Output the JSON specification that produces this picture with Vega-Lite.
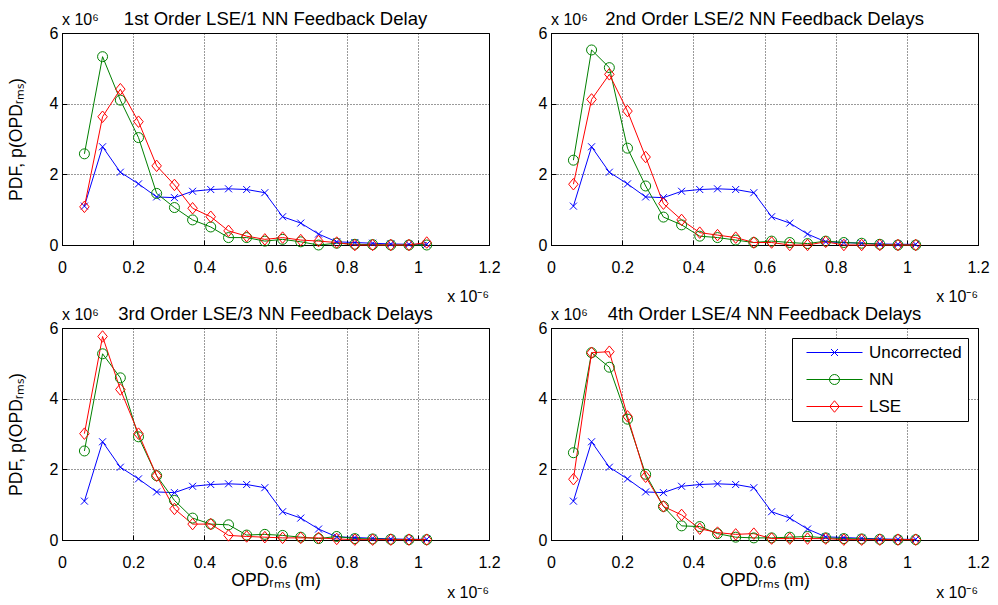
{
  "$schema": "https://vega.github.io/schema/vega-lite/v6.json",
  "background": "white",
  "padding": {"left": 6, "top": 9, "right": 5, "bottom": 0},
  "datasets": {
    "pdf": [
      {"panel":1,"opd":0.063,"Uncorrected":1.10,"NN":2.58,"LSE":1.08},
      {"panel":1,"opd":0.114,"Uncorrected":2.78,"NN":5.33,"LSE":3.63},
      {"panel":1,"opd":0.164,"Uncorrected":2.06,"NN":4.10,"LSE":4.41},
      {"panel":1,"opd":0.215,"Uncorrected":1.73,"NN":3.04,"LSE":3.49},
      {"panel":1,"opd":0.266,"Uncorrected":1.36,"NN":1.46,"LSE":2.24},
      {"panel":1,"opd":0.316,"Uncorrected":1.34,"NN":1.06,"LSE":1.70},
      {"panel":1,"opd":0.367,"Uncorrected":1.52,"NN":0.71,"LSE":1.04},
      {"panel":1,"opd":0.418,"Uncorrected":1.57,"NN":0.51,"LSE":0.80},
      {"panel":1,"opd":0.468,"Uncorrected":1.59,"NN":0.21,"LSE":0.40},
      {"panel":1,"opd":0.519,"Uncorrected":1.57,"NN":0.21,"LSE":0.25},
      {"panel":1,"opd":0.570,"Uncorrected":1.48,"NN":0.11,"LSE":0.16},
      {"panel":1,"opd":0.620,"Uncorrected":0.80,"NN":0.16,"LSE":0.21},
      {"panel":1,"opd":0.671,"Uncorrected":0.62,"NN":0.09,"LSE":0.14},
      {"panel":1,"opd":0.721,"Uncorrected":0.31,"NN":0.00,"LSE":0.11},
      {"panel":1,"opd":0.772,"Uncorrected":0.09,"NN":0.05,"LSE":0.07},
      {"panel":1,"opd":0.823,"Uncorrected":0.07,"NN":0.02,"LSE":0.00},
      {"panel":1,"opd":0.873,"Uncorrected":0.05,"NN":0.01,"LSE":0.00},
      {"panel":1,"opd":0.924,"Uncorrected":0.03,"NN":0.00,"LSE":0.00},
      {"panel":1,"opd":0.975,"Uncorrected":0.02,"NN":0.00,"LSE":0.00},
      {"panel":1,"opd":1.025,"Uncorrected":0.02,"NN":0.00,"LSE":0.07},
      {"panel":2,"opd":0.063,"Uncorrected":1.10,"NN":2.40,"LSE":1.72},
      {"panel":2,"opd":0.114,"Uncorrected":2.78,"NN":5.52,"LSE":4.12},
      {"panel":2,"opd":0.164,"Uncorrected":2.06,"NN":5.02,"LSE":4.83},
      {"panel":2,"opd":0.215,"Uncorrected":1.73,"NN":2.74,"LSE":3.79},
      {"panel":2,"opd":0.266,"Uncorrected":1.36,"NN":1.67,"LSE":2.49},
      {"panel":2,"opd":0.316,"Uncorrected":1.34,"NN":0.79,"LSE":1.17},
      {"panel":2,"opd":0.367,"Uncorrected":1.52,"NN":0.57,"LSE":0.71},
      {"panel":2,"opd":0.418,"Uncorrected":1.57,"NN":0.25,"LSE":0.35},
      {"panel":2,"opd":0.468,"Uncorrected":1.59,"NN":0.21,"LSE":0.28},
      {"panel":2,"opd":0.519,"Uncorrected":1.57,"NN":0.14,"LSE":0.21},
      {"panel":2,"opd":0.570,"Uncorrected":1.48,"NN":0.07,"LSE":0.07},
      {"panel":2,"opd":0.620,"Uncorrected":0.80,"NN":0.11,"LSE":0.07},
      {"panel":2,"opd":0.671,"Uncorrected":0.62,"NN":0.07,"LSE":0.00},
      {"panel":2,"opd":0.721,"Uncorrected":0.31,"NN":0.04,"LSE":0.00},
      {"panel":2,"opd":0.772,"Uncorrected":0.09,"NN":0.11,"LSE":0.09},
      {"panel":2,"opd":0.823,"Uncorrected":0.07,"NN":0.07,"LSE":0.00},
      {"panel":2,"opd":0.873,"Uncorrected":0.05,"NN":0.05,"LSE":0.00},
      {"panel":2,"opd":0.924,"Uncorrected":0.03,"NN":0.02,"LSE":0.00},
      {"panel":2,"opd":0.975,"Uncorrected":0.02,"NN":0.00,"LSE":0.00},
      {"panel":2,"opd":1.025,"Uncorrected":0.02,"NN":0.00,"LSE":0.00},
      {"panel":3,"opd":0.063,"Uncorrected":1.10,"NN":2.52,"LSE":3.01},
      {"panel":3,"opd":0.114,"Uncorrected":2.78,"NN":5.27,"LSE":5.76},
      {"panel":3,"opd":0.164,"Uncorrected":2.06,"NN":4.59,"LSE":4.26},
      {"panel":3,"opd":0.215,"Uncorrected":1.73,"NN":2.92,"LSE":3.01},
      {"panel":3,"opd":0.266,"Uncorrected":1.36,"NN":1.82,"LSE":1.82},
      {"panel":3,"opd":0.316,"Uncorrected":1.34,"NN":1.12,"LSE":0.88},
      {"panel":3,"opd":0.367,"Uncorrected":1.52,"NN":0.62,"LSE":0.45},
      {"panel":3,"opd":0.418,"Uncorrected":1.57,"NN":0.45,"LSE":0.45},
      {"panel":3,"opd":0.468,"Uncorrected":1.59,"NN":0.43,"LSE":0.13},
      {"panel":3,"opd":0.519,"Uncorrected":1.57,"NN":0.14,"LSE":0.10},
      {"panel":3,"opd":0.570,"Uncorrected":1.48,"NN":0.16,"LSE":0.08},
      {"panel":3,"opd":0.620,"Uncorrected":0.80,"NN":0.13,"LSE":0.06},
      {"panel":3,"opd":0.671,"Uncorrected":0.62,"NN":0.08,"LSE":0.06},
      {"panel":3,"opd":0.721,"Uncorrected":0.31,"NN":0.04,"LSE":0.06},
      {"panel":3,"opd":0.772,"Uncorrected":0.09,"NN":0.10,"LSE":0.03},
      {"panel":3,"opd":0.823,"Uncorrected":0.07,"NN":0.04,"LSE":0.01},
      {"panel":3,"opd":0.873,"Uncorrected":0.05,"NN":0.03,"LSE":0.01},
      {"panel":3,"opd":0.924,"Uncorrected":0.03,"NN":0.02,"LSE":0.01},
      {"panel":3,"opd":0.975,"Uncorrected":0.02,"NN":0.01,"LSE":0.01},
      {"panel":3,"opd":1.025,"Uncorrected":0.02,"NN":0.01,"LSE":0.01},
      {"panel":4,"opd":0.063,"Uncorrected":1.10,"NN":2.47,"LSE":1.72},
      {"panel":4,"opd":0.114,"Uncorrected":2.78,"NN":5.30,"LSE":5.30},
      {"panel":4,"opd":0.164,"Uncorrected":2.06,"NN":4.89,"LSE":5.33},
      {"panel":4,"opd":0.215,"Uncorrected":1.73,"NN":3.42,"LSE":3.50},
      {"panel":4,"opd":0.266,"Uncorrected":1.36,"NN":1.86,"LSE":1.79},
      {"panel":4,"opd":0.316,"Uncorrected":1.34,"NN":0.95,"LSE":0.95},
      {"panel":4,"opd":0.367,"Uncorrected":1.52,"NN":0.40,"LSE":0.71},
      {"panel":4,"opd":0.418,"Uncorrected":1.57,"NN":0.38,"LSE":0.32},
      {"panel":4,"opd":0.468,"Uncorrected":1.59,"NN":0.18,"LSE":0.21},
      {"panel":4,"opd":0.519,"Uncorrected":1.57,"NN":0.08,"LSE":0.16},
      {"panel":4,"opd":0.570,"Uncorrected":1.48,"NN":0.06,"LSE":0.18},
      {"panel":4,"opd":0.620,"Uncorrected":0.80,"NN":0.06,"LSE":0.04},
      {"panel":4,"opd":0.671,"Uncorrected":0.62,"NN":0.08,"LSE":0.04},
      {"panel":4,"opd":0.721,"Uncorrected":0.31,"NN":0.10,"LSE":0.04},
      {"panel":4,"opd":0.772,"Uncorrected":0.09,"NN":0.06,"LSE":0.04},
      {"panel":4,"opd":0.823,"Uncorrected":0.07,"NN":0.04,"LSE":0.01},
      {"panel":4,"opd":0.873,"Uncorrected":0.05,"NN":0.03,"LSE":0.01},
      {"panel":4,"opd":0.924,"Uncorrected":0.03,"NN":0.02,"LSE":0.01},
      {"panel":4,"opd":0.975,"Uncorrected":0.02,"NN":0.01,"LSE":0.01},
      {"panel":4,"opd":1.025,"Uncorrected":0.02,"NN":0.01,"LSE":0.01}
    ]
  },
  "columns": 2,
  "bounds": "flush",
  "spacing": {"row": 83, "column": 62},
  "resolve": {"scale": {"color": "independent", "stroke": "independent", "shape": "independent"}, "legend": {"color": "independent", "stroke": "independent", "shape": "independent"}},
  "concat": [
    {
      "width": 427, "height": 212,
      "title": "1st Order LSE/1 NN Feedback Delay",
      "data": {"name": "pdf"},
      "transform": [{"filter": "datum.panel == 1"}, {"fold": ["Uncorrected", "NN", "LSE"], "as": ["series", "pdf"]}],
      "layer": [
        {"mark": {"type": "line", "strokeWidth": 1},
         "encoding": {
           "x": {"field": "opd", "type": "quantitative", "scale": {"domain": [0, 1.2], "nice": false}, "axis": {"title": null, "values": [0, 0.2, 0.4, 0.6, 0.8, 1, 1.2], "format": "~g", "labelPadding": 19}},
           "y": {"field": "pdf", "type": "quantitative", "scale": {"domain": [0, 6], "nice": false}, "axis": {"title": "PDF, p(OPDᵣₘₛ)", "values": [0, 2, 4, 6], "format": "~g", "titlePadding": 24}},
           "color": {"field": "series", "type": "nominal", "scale": {"domain": ["Uncorrected", "NN", "LSE"], "range": ["#0000ff", "#008000", "#ff0000"]}, "legend": null}}},
        {"mark": {"type": "point", "filled": false, "size": 100, "strokeWidth": 1, "opacity": 1},
         "encoding": {
           "x": {"field": "opd", "type": "quantitative"},
           "y": {"field": "pdf", "type": "quantitative"},
           "stroke": {"field": "series", "type": "nominal", "scale": {"domain": ["Uncorrected", "NN", "LSE"], "range": ["#0000ff", "#008000", "#ff0000"]}, "legend": null},
           "shape": {"field": "series", "type": "nominal", "scale": {"domain": ["Uncorrected", "NN", "LSE"], "range": ["M-0.7,-0.7L0.7,0.7M-0.7,0.7L0.7,-0.7", "M-1,0A1,1,0,1,1,1,0A1,1,0,1,1,-1,0Z", "M0,-1.15L0.95,0L0,1.15L-0.95,0Z"]}, "legend": null}}},
        {"data": {"values": [{"label": "x 10⁶"}]},
         "mark": {"type": "text", "align": "left", "baseline": "alphabetic", "dy": -8, "fontSize": 16},
         "encoding": {"x": {"datum": 0}, "y": {"datum": 6}, "text": {"field": "label"}}},
        {"data": {"values": [{"label": "x 10⁻⁶"}]},
         "mark": {"type": "text", "align": "right", "baseline": "alphabetic", "dy": 57, "fontSize": 16},
         "encoding": {"x": {"datum": 1.2}, "y": {"datum": 0}, "text": {"field": "label"}}}
      ]
    },
    {
      "width": 427, "height": 212,
      "title": "2nd Order LSE/2 NN Feedback Delays",
      "data": {"name": "pdf"},
      "transform": [{"filter": "datum.panel == 2"}, {"fold": ["Uncorrected", "NN", "LSE"], "as": ["series", "pdf"]}],
      "layer": [
        {"mark": {"type": "line", "strokeWidth": 1},
         "encoding": {
           "x": {"field": "opd", "type": "quantitative", "scale": {"domain": [0, 1.2], "nice": false}, "axis": {"title": null, "values": [0, 0.2, 0.4, 0.6, 0.8, 1, 1.2], "format": "~g", "labelPadding": 19}},
           "y": {"field": "pdf", "type": "quantitative", "scale": {"domain": [0, 6], "nice": false}, "axis": {"title": null, "values": [0, 2, 4, 6], "format": "~g"}},
           "color": {"field": "series", "type": "nominal", "scale": {"domain": ["Uncorrected", "NN", "LSE"], "range": ["#0000ff", "#008000", "#ff0000"]}, "legend": null}}},
        {"mark": {"type": "point", "filled": false, "size": 100, "strokeWidth": 1, "opacity": 1},
         "encoding": {
           "x": {"field": "opd", "type": "quantitative"},
           "y": {"field": "pdf", "type": "quantitative"},
           "stroke": {"field": "series", "type": "nominal", "scale": {"domain": ["Uncorrected", "NN", "LSE"], "range": ["#0000ff", "#008000", "#ff0000"]}, "legend": null},
           "shape": {"field": "series", "type": "nominal", "scale": {"domain": ["Uncorrected", "NN", "LSE"], "range": ["M-0.7,-0.7L0.7,0.7M-0.7,0.7L0.7,-0.7", "M-1,0A1,1,0,1,1,1,0A1,1,0,1,1,-1,0Z", "M0,-1.15L0.95,0L0,1.15L-0.95,0Z"]}, "legend": null}}},
        {"data": {"values": [{"label": "x 10⁶"}]},
         "mark": {"type": "text", "align": "left", "baseline": "alphabetic", "dy": -8, "fontSize": 16},
         "encoding": {"x": {"datum": 0}, "y": {"datum": 6}, "text": {"field": "label"}}},
        {"data": {"values": [{"label": "x 10⁻⁶"}]},
         "mark": {"type": "text", "align": "right", "baseline": "alphabetic", "dy": 57, "fontSize": 16},
         "encoding": {"x": {"datum": 1.2}, "y": {"datum": 0}, "text": {"field": "label"}}}
      ]
    },
    {
      "width": 427, "height": 212,
      "title": "3rd Order LSE/3 NN Feedback Delays",
      "data": {"name": "pdf"},
      "transform": [{"filter": "datum.panel == 3"}, {"fold": ["Uncorrected", "NN", "LSE"], "as": ["series", "pdf"]}],
      "layer": [
        {"mark": {"type": "line", "strokeWidth": 1},
         "encoding": {
           "x": {"field": "opd", "type": "quantitative", "scale": {"domain": [0, 1.2], "nice": false}, "axis": {"title": "OPDᵣₘₛ (m)", "values": [0, 0.2, 0.4, 0.6, 0.8, 1, 1.2], "format": "~g", "labelPadding": 19, "titlePadding": 1}},
           "y": {"field": "pdf", "type": "quantitative", "scale": {"domain": [0, 6], "nice": false}, "axis": {"title": "PDF, p(OPDᵣₘₛ)", "values": [0, 2, 4, 6], "format": "~g", "titlePadding": 24}},
           "color": {"field": "series", "type": "nominal", "scale": {"domain": ["Uncorrected", "NN", "LSE"], "range": ["#0000ff", "#008000", "#ff0000"]}, "legend": null}}},
        {"mark": {"type": "point", "filled": false, "size": 100, "strokeWidth": 1, "opacity": 1},
         "encoding": {
           "x": {"field": "opd", "type": "quantitative"},
           "y": {"field": "pdf", "type": "quantitative"},
           "stroke": {"field": "series", "type": "nominal", "scale": {"domain": ["Uncorrected", "NN", "LSE"], "range": ["#0000ff", "#008000", "#ff0000"]}, "legend": null},
           "shape": {"field": "series", "type": "nominal", "scale": {"domain": ["Uncorrected", "NN", "LSE"], "range": ["M-0.7,-0.7L0.7,0.7M-0.7,0.7L0.7,-0.7", "M-1,0A1,1,0,1,1,1,0A1,1,0,1,1,-1,0Z", "M0,-1.15L0.95,0L0,1.15L-0.95,0Z"]}, "legend": null}}},
        {"data": {"values": [{"label": "x 10⁶"}]},
         "mark": {"type": "text", "align": "left", "baseline": "alphabetic", "dy": -8, "fontSize": 16},
         "encoding": {"x": {"datum": 0}, "y": {"datum": 6}, "text": {"field": "label"}}},
        {"data": {"values": [{"label": "x 10⁻⁶"}]},
         "mark": {"type": "text", "align": "right", "baseline": "alphabetic", "dy": 58, "fontSize": 16},
         "encoding": {"x": {"datum": 1.2}, "y": {"datum": 0}, "text": {"field": "label"}}}
      ]
    },
    {
      "width": 427, "height": 212,
      "title": "4th Order LSE/4 NN Feedback Delays",
      "data": {"name": "pdf"},
      "transform": [{"filter": "datum.panel == 4"}, {"fold": ["Uncorrected", "NN", "LSE"], "as": ["series", "pdf"]}],
      "layer": [
        {"mark": {"type": "line", "strokeWidth": 1},
         "encoding": {
           "x": {"field": "opd", "type": "quantitative", "scale": {"domain": [0, 1.2], "nice": false}, "axis": {"title": "OPDᵣₘₛ (m)", "values": [0, 0.2, 0.4, 0.6, 0.8, 1, 1.2], "format": "~g", "labelPadding": 19, "titlePadding": 1}},
           "y": {"field": "pdf", "type": "quantitative", "scale": {"domain": [0, 6], "nice": false}, "axis": {"title": null, "values": [0, 2, 4, 6], "format": "~g"}},
           "color": {"field": "series", "type": "nominal", "scale": {"domain": ["Uncorrected", "NN", "LSE"], "range": ["#0000ff", "#008000", "#ff0000"]},
             "legend": {"title": null, "orient": "none", "legendX": 241, "legendY": 10, "padding": 6, "strokeColor": "black", "fillColor": "white", "labelFontSize": 17, "labelColor": "black", "symbolType": "M-5.6,0L5.6,0", "symbolSize": 100, "symbolStrokeWidth": 1, "symbolFillColor": "transparent", "symbolOffset": 28, "labelOffset": 26, "rowPadding": 9}}}},
        {"mark": {"type": "point", "filled": false, "size": 100, "strokeWidth": 1, "opacity": 1},
         "encoding": {
           "x": {"field": "opd", "type": "quantitative"},
           "y": {"field": "pdf", "type": "quantitative"},
           "stroke": {"field": "series", "type": "nominal", "sort": null, "scale": {"range": ["#0000ff", "#008000", "#ff0000"]},
             "legend": {"title": null, "orient": "none", "legendX": 241, "legendY": 10, "padding": 6, "labelFontSize": 17, "labelOpacity": 0, "symbolSize": 100, "symbolStrokeWidth": 1, "symbolOffset": 28, "labelOffset": 26, "rowPadding": 9}},
           "shape": {"field": "series", "type": "nominal", "sort": null, "scale": {"range": ["M-0.7,-0.7L0.7,0.7M-0.7,0.7L0.7,-0.7", "M-1,0A1,1,0,1,1,1,0A1,1,0,1,1,-1,0Z", "M0,-1.15L0.95,0L0,1.15L-0.95,0Z"]},
             "legend": {"title": null, "orient": "none", "legendX": 241, "legendY": 10, "padding": 6, "labelFontSize": 17, "labelOpacity": 0, "symbolSize": 100, "symbolStrokeWidth": 1, "symbolOffset": 28, "labelOffset": 26, "rowPadding": 9}}}},
        {"data": {"values": [{"label": "x 10⁶"}]},
         "mark": {"type": "text", "align": "left", "baseline": "alphabetic", "dy": -8, "fontSize": 16},
         "encoding": {"x": {"datum": 0}, "y": {"datum": 6}, "text": {"field": "label"}}},
        {"data": {"values": [{"label": "x 10⁻⁶"}]},
         "mark": {"type": "text", "align": "right", "baseline": "alphabetic", "dy": 58, "fontSize": 16},
         "encoding": {"x": {"datum": 1.2}, "y": {"datum": 0}, "text": {"field": "label"}}}
      ]
    }
  ],
  "config": {
    "font": "Liberation Sans",
    "view": {"stroke": "black", "strokeWidth": 1},
    "text": {"font": "Liberation Sans", "color": "black"},
    "title": {"font": "Liberation Sans", "fontSize": 18.5, "fontWeight": "normal", "color": "black", "offset": -16},
    "legend": {"labelFont": "Liberation Sans", "cornerRadius": 0},
    "axis": {
      "domainColor": "black", "domainWidth": 1,
      "gridColor": "black", "gridDash": [1, 2], "gridOpacity": 1, "gridWidth": 0.8,
      "tickColor": "black", "tickSize": -5, "tickWidth": 1,
      "labelColor": "black", "labelFont": "Liberation Sans", "labelFontSize": 16, "labelPadding": 9,
      "labelFlush": false, "labelOverlap": false, "labelBound": false,
      "titleColor": "black", "titleFont": "Liberation Sans", "titleFontSize": 17.6, "titleFontWeight": "normal", "titlePadding": 8
    }
  }
}
